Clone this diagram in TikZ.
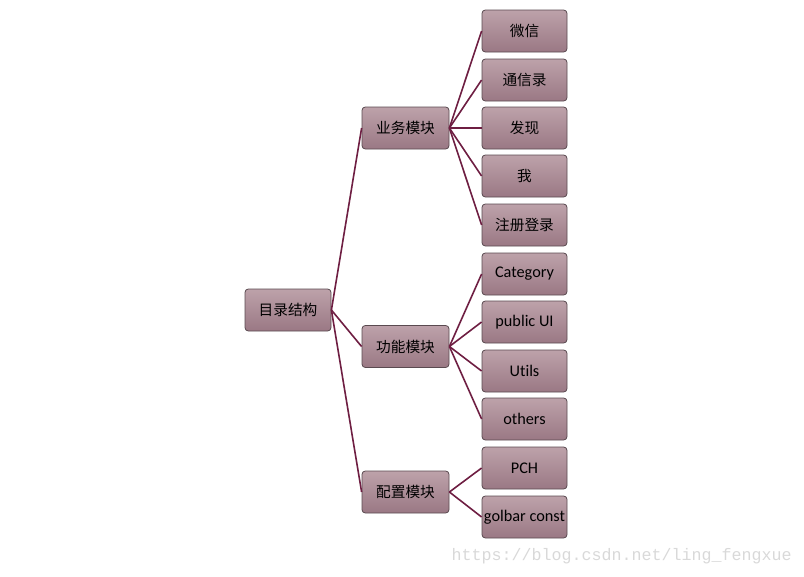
\documentclass[tikz,border=0pt]{standalone}
\usepackage{fontspec}
\setmainfont{Carlito}[RawFeature=-liga]
\newfontfamily\cjk{Noto Sans CJK SC}
\newfontfamily\wmfont{Liberation Mono}
\definecolor{boxtop}{HTML}{BDA2AA}
\definecolor{boxbot}{HTML}{9A7884}
\definecolor{boxline}{HTML}{5A4A50}
\definecolor{linkc}{HTML}{6E1E42}
\definecolor{wmc}{HTML}{D9D9D9}
\tikzset{
  box/.style={draw=boxline, line width=0.6pt, rounded corners=2.5pt,
    top color=boxtop, bottom color=boxbot,
    minimum width=63.75pt, minimum height=31.5pt, inner sep=0pt,
    font=\fontsize{12.2}{14}\selectfont},
  cbox/.style={box, font=\cjk\fontsize{11}{13}\selectfont},
  link/.style={draw=linkc, line width=1.2pt},
}
\begin{document}
\begin{tikzpicture}[x=0.75pt, y=-0.75pt]
\useasboundingbox (0,0) rectangle (804,576);
\node[cbox, minimum width=64.5pt] (root) at (288,310) {目录结构};
\node[cbox, minimum width=65.25pt] (yw) at (405.5,128) {业务模块};
\node[cbox, minimum width=65.25pt] (gn) at (405.5,346.5) {功能模块};
\node[cbox, minimum width=65.25pt] (pz) at (405.5,492) {配置模块};
\node[cbox] (a1) at (524.5,31) {微信};
\node[cbox] (a2) at (524.5,80) {通信录};
\node[cbox] (a3) at (524.5,128) {发现};
\node[cbox] (a4) at (524.5,176) {我};
\node[cbox] (a5) at (524.5,225) {注册登录};
\node[box] (b1) at (524.5,274) {Category};
\node[box] (b2) at (524.5,322) {public UI};
\node[box] (b3) at (524.5,371) {Utils};
\node[box] (b4) at (524.5,419) {others};
\node[box] (c1) at (524.5,468) {PCH};
\node[box] (c2) at (524.5,517) {golbar const};
\foreach \t in {yw,gn,pz} \draw[link] (root.east) -- (\t.west);
\foreach \t in {a1,a2,a3,a4,a5} \draw[link] (yw.east) -- (\t.west);
\foreach \t in {b1,b2,b3,b4} \draw[link] (gn.east) -- (\t.west);
\foreach \t in {c1,c2} \draw[link] (pz.east) -- (\t.west);
\node[text=wmc, font=\wmfont\fontsize{12.5}{14}\selectfont, anchor=east, inner sep=0pt] (wm) at (792,556) {https://blog.csdn.net/ling\_fengxue};
\end{tikzpicture}
\end{document}
